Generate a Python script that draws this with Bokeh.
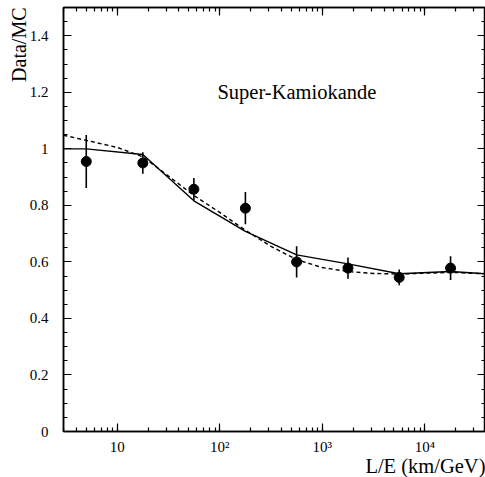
import numpy as np
from bokeh.plotting import figure
from bokeh.models import (Range1d, LogAxis, LinearAxis, LogTicker, BasicTicker,
                          CustomJSTickFormatter, Label, Title, ColumnDataSource)
from bokeh.embed import file_html
from bokeh.resources import INLINE

# ---- data ----
pts_x = [5.0, 17.8, 56.0, 178.0, 562.0, 1780.0, 5620.0, 17800.0]
pts_y = [0.955, 0.950, 0.857, 0.790, 0.600, 0.578, 0.545, 0.578]
pts_err = [0.094, 0.038, 0.040, 0.057, 0.055, 0.038, 0.028, 0.042]

solid_x = [3.0, 5.0, 17.8, 56.0, 178.0, 562.0, 1780.0, 5620.0, 17800.0, 39000.0]
solid_y = [1.0, 1.0, 0.980, 0.816, 0.708, 0.625, 0.593, 0.558, 0.566, 0.558]

dash_x = [3.0, 5.0, 10.0, 17.8, 30.0, 56.0, 100.0, 178.0, 316.0, 562.0, 1000.0,
          1780.0, 3160.0, 5620.0, 10000.0, 17800.0, 39000.0]
dash_y = [1.048, 1.030, 1.005, 0.972, 0.910, 0.835, 0.775, 0.712, 0.655, 0.608, 0.580,
          0.566, 0.559, 0.557, 0.560, 0.563, 0.558]

FONT = "Liberation Serif"

p = figure(width=485, height=477, x_axis_type="log",
           x_range=Range1d(3, 39000), y_range=Range1d(0, 1.5),
           output_backend="svg", toolbar_location=None,
           min_border_left=63, min_border_right=0, min_border_top=7, min_border_bottom=46)
p.background_fill_color = "white"
p.border_fill_color = "white"
p.outline_line_color = "black"
p.outline_line_width = 1.5
p.xgrid.visible = False
p.ygrid.visible = False

# bottom axis
xa = p.xaxis[0]
xa.ticker = LogTicker(num_minor_ticks=10)
xa.formatter = CustomJSTickFormatter(code="""
const m = {10: '10', 100: '10\u00b2', 1000: '10\u00b3', 10000: '10\u2074'};
return (m[Math.round(tick)] !== undefined) ? m[Math.round(tick)] : '';
""")
# left axis
ya = p.yaxis[0]
ya.ticker = BasicTicker(desired_num_ticks=8, num_minor_ticks=4)
ya.formatter = CustomJSTickFormatter(code="return Number(tick.toFixed(1)).toString();")

for ax in (xa, ya):
    ax.major_tick_in = 8
    ax.major_tick_out = 0
    ax.minor_tick_in = 4
    ax.minor_tick_out = 0
    ax.axis_line_width = 1.5
    ax.major_tick_line_width = 1.2
    ax.minor_tick_line_width = 1.2
    ax.major_label_text_font = FONT
    ax.major_label_text_font_size = "15px"
    ax.major_label_text_color = "black"
xa.major_label_standoff = 7
ya.major_label_standoff = 15

# top and right axes (ticks only)
blank = CustomJSTickFormatter(code="return '';")
top = LogAxis(ticker=LogTicker(num_minor_ticks=10), formatter=blank)
right = LinearAxis(ticker=BasicTicker(desired_num_ticks=8, num_minor_ticks=4), formatter=blank)
for ax in (top, right):
    ax.major_tick_in = 8
    ax.major_tick_out = 0
    ax.minor_tick_in = 4
    ax.minor_tick_out = 0
    ax.axis_line_width = 1.5
    ax.major_tick_line_width = 1.2
    ax.minor_tick_line_width = 1.2
    ax.major_label_standoff = 0
    ax.major_label_text_font_size = "1px"
p.add_layout(top, "above")
p.add_layout(right, "right")

# axis titles
p.add_layout(Title(text="Data/MC", align="right", text_font=FONT, text_font_size="20px",
                   text_font_style="normal", text_color="black", standoff=-6, offset=0), "left")
p.add_layout(Title(text="L/E (km/GeV)", align="right", vertical_align="top", text_font=FONT,
                   text_font_size="20.5px", text_font_style="normal", text_color="black",
                   standoff=-5, offset=0), "below")

# curves
p.line(dash_x, dash_y, line_color="black", line_width=1.4, line_dash="4 3")
p.line(solid_x, solid_y, line_color="black", line_width=1.4)

# data points with error bars
lo = [y - e for y, e in zip(pts_y, pts_err)]
hi = [y + e for y, e in zip(pts_y, pts_err)]
src = ColumnDataSource(dict(x=pts_x, y=pts_y, lo=lo, hi=hi))
p.segment(x0="x", y0="lo", x1="x", y1="hi", source=src, line_color="black", line_width=1.6)
p.scatter(x="x", y="y", source=src, size=10, marker="circle",
          fill_color="black", line_color="black")

p.add_layout(Label(x=95, y=1.2, text="Super-Kamiokande", text_font=FONT,
                   text_font_size="20.5px", text_color="black",
                   text_align="left", text_baseline="middle"))

open("out.html", "w").write(file_html(p, INLINE))
